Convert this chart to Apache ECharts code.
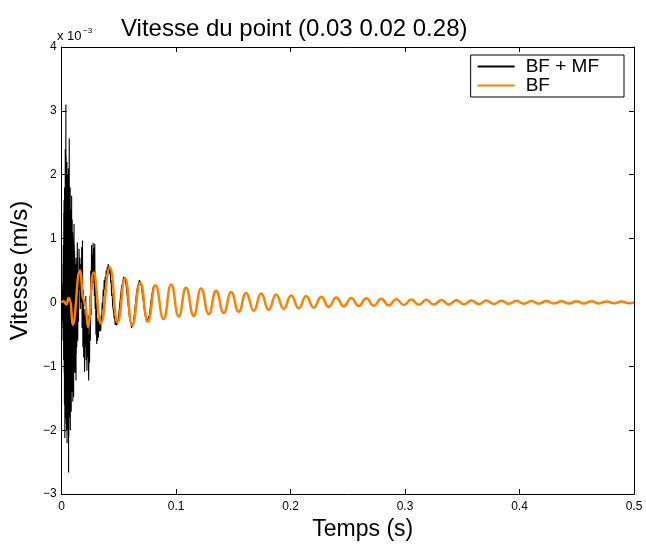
<!DOCTYPE html>
<html>
<head>
<meta charset="utf-8">
<script src="https://cdn.jsdelivr.net/npm/echarts@6/dist/echarts.min.js"></script>
<style>
html,body{margin:0;padding:0;background:#fff;}
#chart{width:646px;height:546px;}
</style>
</head>
<body>
<div id="chart"></div>
<script>
// x ticks (s) and y ticks (x 10^-3 m/s)
const xTicks = [0, 0.1, 0.2, 0.3, 0.4, 0.5];
const yTicks = [-3, -2, -1, 0, 1, 2, 3, 4];

// BF + MF : [time (s), velocity (x 10^-3 m/s)]
const bfmfPoints = [
[0,0.00],[0.00014,0.05],[0.00029,-0.05],[0.00043,0.10],[0.00058,-0.15],[0.00072,0.20],[0.00087,-0.30],
[0.00099,0.30],[0.0011,-0.40],[0.00122,0.60],[0.00134,-0.60],[0.00145,0.90],[0.00157,-0.50],
[0.00168,0.80],[0.0018,-0.90],[0.00191,1.40],[0.00203,-0.70],[0.00214,1.60],[0.00226,-1.10],
[0.00238,1.10],[0.00249,-1.60],[0.00261,1.80],[0.0027,-1.30],[0.00278,1.20],[0.00287,-2.12],
[0.00299,1.60],[0.0031,-1.80],[0.00322,2.40],[0.00331,-1.20],[0.00339,1.90],[0.00348,-1.60],
[0.00357,2.00],[0.00365,-1.40],[0.00374,3.10],[0.00386,-1.50],[0.00397,2.30],[0.00409,-1.90],
[0.0042,1.80],[0.00432,-2.00],[0.00443,1.50],[0.00455,-1.30],[0.00466,2.20],[0.00478,-2.20],
[0.0049,1.70],[0.00501,-1.80],[0.00513,2.00],[0.00525,-2.00],[0.00536,1.60],[0.00548,-1.40],
[0.00557,1.40],[0.00565,-1.70],[0.00574,1.92],[0.00586,-1.60],[0.00597,2.10],[0.00609,-2.66],
[0.0062,1.70],[0.00632,-2.10],[0.00643,1.30],[0.00656,-1.50],[0.0067,2.57],[0.00679,-1.20],[0.00687,1.50],
[0.00696,-1.80],[0.00707,1.60],[0.00719,-1.40],[0.0073,1.10],[0.00742,-1.50],[0.00753,1.80],[0.00765,-2.00],
[0.00777,1.20],[0.00788,-1.60],[0.008,1.45],[0.00814,-1.30],[0.00829,1.30],[0.00843,-1.71],
[0.00855,1.20],[0.00866,-1.40],[0.00878,1.67],[0.0089,-1.40],[0.00901,1.20],[0.00913,-1.20],
[0.00925,1.30],[0.00936,-1.30],[0.00948,1.00],[0.0096,-1.00],[0.00971,1.10],[0.00983,-1.55],
[0.00994,1.00],[0.01006,-1.20],[0.01017,0.80],[0.01029,-1.20],[0.0104,1.00],[0.01052,-1.48],
[0.01064,0.90],[0.01075,-1.10],[0.01087,1.23],[0.01099,-1.10],[0.0111,0.90],[0.01122,-0.90],
[0.01134,0.80],[0.01145,-1.00],[0.01157,0.70],[0.01168,-0.80],[0.0118,0.70],[0.01191,-1.10],
[0.01203,0.60],[0.01214,-0.90],[0.01226,0.60],[0.01238,-0.90],[0.01249,0.50],[0.01261,-1.22],
[0.01273,0.60],[0.01284,-0.80],[0.01296,0.50],[0.01307,-0.60],[0.01319,0.70],[0.0133,-0.70],
[0.01374,0.94],[0.01409,-0.60],[0.01443,0.50],[0.01478,-0.30],[0.01522,0.84],[0.01565,0.20],[0.016,0.70],[0.01635,-0.10],
[0.01678,0.60],[0.01722,0.00],[0.01757,0.87],[0.01791,-0.40],[0.01826,0.97],[0.01861,-0.70],[0.01896,0.20],[0.0193,-0.86],
[0.01974,-0.10],[0.02009,-1.09],[0.02043,-0.20],[0.02078,-0.70],[0.02113,0.10],[0.02148,-0.90],[0.02183,-0.30],[0.02217,-1.07],
[0.02252,-0.40],[0.02287,-0.85],[0.02322,-0.20],[0.02365,-1.22],[0.02409,-0.50],[0.02443,-0.94],[0.02478,0.10],[0.02513,-0.60],
[0.02548,0.50],[0.02583,-0.20],[0.02617,0.90],[0.02652,0.20],[0.02687,0.75],[0.02722,0.30],[0.02757,0.93],[0.02791,0.40],
[0.02826,0.85],[0.02861,0.10],[0.02896,0.92],[0.0293,-0.10],[0.02965,0.40],[0.03,-0.50],[0.03035,0.00],[0.0307,-0.65],
[0.03104,-0.24],[0.03139,-0.60],[0.03174,-0.30],[0.03217,-0.55],[0.03261,-0.20],[0.03304,-0.45],[0.03348,-0.35],[0.03417,-0.45],
[0.03461,-0.20],[0.03504,-0.30],[0.03548,0.00],[0.03591,-0.10],[0.03635,0.20],[0.03678,0.10],[0.03722,0.35],[0.03765,0.20],
[0.03809,0.40],[0.03852,0.30],[0.03896,0.50],[0.03939,0.35],[0.03983,0.55],[0.04026,0.40],[0.0407,0.60],[0.04148,0.63],
[0.042,0.45],[0.04243,0.55],[0.04287,0.30],[0.0433,0.35],[0.04374,0.10],[0.04417,0.15],[0.04461,-0.05],[0.04504,-0.10],
[0.04548,-0.15],[0.04591,-0.25],[0.04635,-0.20],[0.04678,-0.35],[0.04722,-0.30],[0.04809,-0.36],[0.04896,-0.30],[0.04983,-0.22],
[0.0507,-0.05],[0.05157,0.10],[0.05243,0.25],[0.0533,0.30],[0.05417,0.40],[0.05504,0.42],[0.05591,0.35],[0.05678,0.20],
[0.05765,0.05],[0.05852,-0.10],[0.05939,-0.25],[0.06026,-0.30],[0.06113,-0.40],[0.062,-0.38],[0.06287,-0.30],[0.06374,-0.15],
[0.06461,0.00],[0.06548,0.15],[0.06635,0.25],[0.06722,0.28],[0.06809,0.35],[0.06896,0.30],[0.06983,0.25],[0.0707,0.10],
[0.07157,0.00],[0.07243,-0.15],[0.0733,-0.22],[0.07417,-0.30],[0.07504,-0.32],[0.07591,-0.30],[0.07678,-0.20],[0.07765,-0.05],
[0.07852,0.08],[0.07939,0.18],[0.08026,0.25],[0.08113,0.28],[0.082,0.27]
];

// BF : extrema of the low-frequency response [time (s), velocity (x 10^-3 m/s)]
const bfPoints = [
[0,0],[0.0017,0.02],[0.0043,-0.03],[0.0061,0.07],[0.0078,0.02],[0.0096,-0.35],[0.0161,0.50],[0.0191,0.05],
[0.0209,-0.05],[0.0230,-0.38],[0.0278,0.47],[0.0343,-0.32],[0.0422,0.55],[0.0490,-0.31],[0.0555,0.38],[0.0617,-0.36],
[0.0687,0.31],[0.0754,-0.30],[0.0820,0.27],[0.0891,-0.26],[0.0957,0.28],[0.1023,-0.22],[0.1087,0.23],[0.1154,-0.21],
[0.1218,0.22],[0.1285,-0.18],[0.1350,0.185],[0.1416,-0.165],[0.1481,0.165],[0.1547,-0.145],[0.1612,0.15],[0.1678,-0.13],
[0.1743,0.14],[0.1809,-0.115],[0.1874,0.125],[0.1940,-0.10],[0.2006,0.11],[0.2071,-0.09],[0.2137,0.10],[0.2202,-0.08],
[0.2268,0.09],[0.2333,-0.07],[0.2399,0.08],[0.2465,-0.06],[0.2530,0.07],[0.2596,-0.055],[0.2661,0.065],[0.2727,-0.05],
[0.2792,0.058],[0.2858,-0.045],[0.2924,0.052],[0.2989,-0.04],[0.3055,0.047],[0.3120,-0.037],[0.3186,0.042],[0.3251,-0.033],
[0.3317,0.038],[0.3383,-0.03],[0.3448,0.035],[0.3514,-0.027],[0.3579,0.032],[0.3645,-0.025],[0.3710,0.03],[0.3776,-0.023],
[0.3842,0.028],[0.3907,-0.021],[0.3973,0.026],[0.4038,-0.02],[0.4104,0.024],[0.4169,-0.018],[0.4235,0.022],[0.4301,-0.017],
[0.4366,0.021],[0.4432,-0.016],[0.4497,0.02],[0.4563,-0.015],[0.4628,0.018],[0.4694,-0.014],[0.4760,0.017],[0.4825,-0.013],
[0.4891,0.016],[0.4956,-0.012],[0.5,0]
];

const seriesNames = ['BF + MF', 'BF'];
const titleText = 'Vitesse du point (0.03 0.02 0.28)';
const xLabel = 'Temps (s)';
const yLabel = 'Vitesse (m/s)';

const FONT = '"Liberation Sans", Arial, Helvetica, sans-serif';
const fmtY = v => String(v).replace('-', '\u2212');

const chart = echarts.init(document.getElementById('chart'), null, {renderer: 'canvas'});

const baseX = {
  type: 'value', min: xTicks[0], max: xTicks[xTicks.length - 1],
  interval: xTicks[1] - xTicks[0],
  axisLine: {show: true, onZero: false, lineStyle: {color: '#000', width: 1}},
  axisTick: {show: true, inside: true, length: 5, lineStyle: {color: '#000'}},
  splitLine: {show: false}
};
const baseY = {
  type: 'value', min: yTicks[0], max: yTicks[yTicks.length - 1],
  interval: yTicks[1] - yTicks[0],
  axisLine: {show: true, onZero: false, lineStyle: {color: '#000', width: 1}},
  axisTick: {show: true, inside: true, length: 5, lineStyle: {color: '#000'}},
  splitLine: {show: false}
};

chart.setOption({
  animation: false,
  backgroundColor: '#fff',
  title: {
    text: titleText, left: 121, top: 17, padding: 0,
    textStyle: {fontFamily: FONT, fontSize: 24, fontWeight: 'normal', color: '#000'}
  },
  grid: {left: 59, right: 12, top: 47, bottom: 46, containLabel: false},
  legend: {
    data: seriesNames, orient: 'vertical', right: 22, top: 55,
    backgroundColor: '#fff', borderColor: '#000', borderWidth: 1, borderRadius: 0,
    padding: [2, 25, 2, 6], itemGap: 0, itemWidth: 37, itemHeight: 19,
    itemStyle: {color: 'rgba(0,0,0,0)', borderWidth: 0, opacity: 0},
    textStyle: {fontFamily: FONT, fontSize: 19, color: '#000', lineHeight: 19, padding: [0, 0, 0, 6]}
  },
  xAxis: [
    Object.assign({}, baseX, {
      position: 'bottom',
      axisLabel: {show: true, margin: 7, color: '#000', fontFamily: FONT, fontSize: 12},
      name: xLabel, nameLocation: 'middle', nameGap: 21,
      nameTextStyle: {fontFamily: FONT, fontSize: 23, color: '#000', verticalAlign: 'top', padding: [0, 0, 0, 30]}
    }),
    Object.assign({}, baseX, {position: 'top', axisLabel: {show: false}})
  ],
  yAxis: [
    Object.assign({}, baseY, {
      position: 'left',
      axisLabel: {show: true, margin: 5, color: '#000', fontFamily: FONT, fontSize: 12, formatter: fmtY},
      name: yLabel, nameLocation: 'middle', nameGap: 23, nameRotate: 90,
      nameTextStyle: {fontFamily: FONT, fontSize: 24, color: '#000', verticalAlign: 'bottom'}
    }),
    Object.assign({}, baseY, {position: 'right', axisLabel: {show: false}})
  ],
  graphic: [
    {type: 'text', left: 57, top: 30, style: {text: 'x 10', font: '13px ' + FONT, fill: '#000'}},
    {type: 'text', left: 83, top: 27, style: {text: '\u22123', font: '8px ' + FONT, fill: '#000'}}
  ],
  series: [
    {
      name: seriesNames[0], type: 'line', xAxisIndex: 0, yAxisIndex: 0,
      data: bfmfPoints, showSymbol: false, symbol: 'none',
      lineStyle: {color: '#000', width: 1.1}, itemStyle: {color: '#000'}, z: 2
    },
    {
      name: seriesNames[1], type: 'line', xAxisIndex: 0, yAxisIndex: 0,
      data: bfPoints, showSymbol: false, symbol: 'none',
      smooth: 0.5, smoothMonotone: 'x',
      lineStyle: {color: '#ff8000', width: 2.5}, itemStyle: {color: '#ff8000'}, z: 3
    }
  ]
});
</script>
</body>
</html>
